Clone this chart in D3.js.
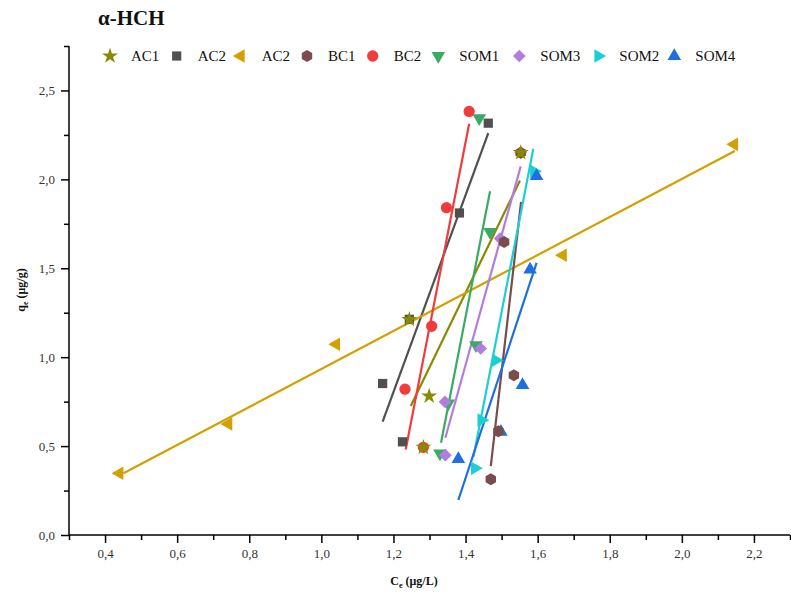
<!DOCTYPE html>
<html><head><meta charset="utf-8">
<script src="https://cdn.jsdelivr.net/npm/d3@7"></script>
<style>body{margin:0;background:#fff}svg{display:block}text{font-family:"Liberation Serif","Times New Roman",serif}</style>
</head><body>
<svg id="c" width="791" height="596"></svg>
<script>
// ---- data ----
const seriesNames = ["AC1","AC2","AC2","BC1","BC2","SOM1","SOM3","SOM2","SOM4"];
const ac1X = [1.283, 1.299, 1.244, 1.553], ac1Y = [0.493, 0.781, 1.212, 2.150];
const ac2X = [1.225, 1.170, 1.244, 1.383, 1.463], ac2Y = [0.524, 0.852, 1.213, 1.811, 2.316];
const ac2bX = [0.440, 0.742, 1.041, 1.670, 2.145], ac2bY = [0.347, 0.624, 1.073, 1.573, 2.197];
const bc1X = [1.470, 1.491, 1.534, 1.507, 1.553], bc1Y = [0.313, 0.584, 0.899, 1.648, 2.150];
const bc2X = [1.283, 1.232, 1.306, 1.347, 1.410], bc2Y = [0.493, 0.820, 1.174, 1.841, 2.382];
const som1X = [1.329, 1.352, 1.429, 1.468, 1.438], som1Y = [0.459, 0.740, 1.067, 1.704, 2.344];
const som3X = [1.344, 1.343, 1.442, 1.496, 1.553], som3Y = [0.449, 0.749, 1.049, 1.667, 2.150];
const som2X = [1.426, 1.444, 1.484, 1.590], som2Y = [0.375, 0.646, 0.983, 2.045];
const som4X = [1.380, 1.498, 1.558, 1.579, 1.597], som4Y = [0.427, 0.580, 0.843, 1.493, 2.019];
// fitted lines: [x1, y1, x2, y2]
const ac1Fit = [1.248, 0.725, 1.551, 1.994];
const ac2Fit = [1.170, 0.637, 1.463, 2.260];
const ac2bFit = [0.451, 0.347, 2.147, 2.159];
const bc1Fit = [1.470, 0.388, 1.554, 1.873];
const bc2Fit = [1.234, 0.481, 1.410, 2.313];
const som1Fit = [1.332, 0.519, 1.468, 1.933];
const som3Fit = [1.344, 0.547, 1.553, 2.073];
const som2Fit = [1.422, 0.440, 1.588, 2.172];
const som4Fit = [1.380, 0.197, 1.597, 1.530];
const xMajor = [0.4,0.6,0.8,1.0,1.2,1.4,1.6,1.8,2.0,2.2];
const yMajor = [0.0,0.5,1.0,1.5,2.0,2.5];

// ---- styles / layout ----
const colors = ["#8a8a00","#505050","#d49f00","#7a4c4c","#f03c3c","#3aaa64","#b27ddf","#1ccfd4","#1e6fe0"];
const shapes = ["star","square","tleft","hex","circle","tdown","diamond","tright","tup"];
const legendSymX = [110,176.7,240.7,307,372.7,438.3,519.3,598.3,674.3];
const drawOrder = [5,7,8,6,4,3,1,2,0];

const series = [
  [ac1X,ac1Y,ac1Fit],[ac2X,ac2Y,ac2Fit],[ac2bX,ac2bY,ac2bFit],[bc1X,bc1Y,bc1Fit],[bc2X,bc2Y,bc2Fit],
  [som1X,som1Y,som1Fit],[som3X,som3Y,som3Fit],[som2X,som2Y,som2Fit],[som4X,som4Y,som4Fit]
].map((s,i)=>({name:seriesNames[i],pts:s[0].map((x,j)=>({x,y:s[1][j]})),fit:s[2],color:colors[i],shape:shapes[i]}));

const svg = d3.select("#c");
const x = d3.scaleLinear([0.3,2.3],[69,790]);
const y = d3.scaleLinear([0,2.75],[535,46]);
const fmt = v => d3.format(".1f")(v).replace(".",",");

function symPath(shape){
  const hex = d3.line()(d3.range(6).map(k=>{const a=Math.PI/6+k*Math.PI/3;return [6*Math.cos(a),6*Math.sin(a)];}))+"Z";
  switch(shape){
    case "star": return {d:d3.symbol(d3.symbolStar,80)(),r:0};
    case "square": return {d:d3.symbol(d3.symbolSquare,85)(),r:0};
    case "circle": return {d:d3.symbol(d3.symbolCircle,100)(),r:0};
    case "diamond": return {d:d3.symbol(d3.symbolSquare,80)(),r:45};
    case "hex": return {d:hex,r:0};
    case "tup": return {d:d3.symbol(d3.symbolTriangle,80)(),r:0};
    case "tdown": return {d:d3.symbol(d3.symbolTriangle,80)(),r:180};
    case "tleft": return {d:d3.symbol(d3.symbolTriangle,80)(),r:-90};
    case "tright": return {d:d3.symbol(d3.symbolTriangle,80)(),r:90};
  }
}

// axes
const gx = svg.append("g").attr("transform","translate(0,535)");
gx.call(d3.axisBottom(x).tickValues(d3.range(3,24).map(v=>v/10).filter(v=>!xMajor.some(m=>Math.abs(m-v)<1e-6))).tickSize(5).tickFormat(""));
const gx2 = svg.append("g").attr("transform","translate(0,535)");
gx2.call(d3.axisBottom(x).tickValues(xMajor).tickSize(8).tickFormat(fmt).tickPadding(6));
const gy = svg.append("g").attr("transform","translate(69,0)");
gy.call(d3.axisLeft(y).tickValues([0.25,0.75,1.25,1.75,2.25,2.75]).tickSize(5).tickFormat(""));
const gy2 = svg.append("g").attr("transform","translate(69,0)");
gy2.call(d3.axisLeft(y).tickValues(yMajor).tickSize(8).tickFormat(fmt).tickPadding(6));
svg.selectAll(".domain").attr("stroke","#000").attr("stroke-width",1.5);
svg.selectAll(".tick line").attr("stroke","#000").attr("stroke-width",1.5);
svg.selectAll(".tick text").attr("fill","#333").style("font-size","13px").style("font-family","'Liberation Serif',serif");
gx.select(".domain").remove(); gy.select(".domain").remove();
gx2.select(".domain").attr("d",`M${x(0.3)},0H${x(2.3)}`);
gy2.select(".domain").attr("d",`M0,${y(0)}V${y(2.75)}`);

// fit lines
const plot = svg.append("g");
series.forEach(s=>{
  plot.append("line").attr("x1",x(s.fit[0])).attr("y1",y(s.fit[1])).attr("x2",x(s.fit[2])).attr("y2",y(s.fit[3]))
    .attr("stroke",s.color).attr("stroke-width",2.2);
});
// markers
drawOrder.forEach(i=>{
  const s = series[i], p = symPath(s.shape);
  plot.append("g").selectAll("path").data(s.pts).join("path")
    .attr("d",p.d).attr("fill",s.color)
    .attr("transform",d=>`translate(${x(d.x)},${y(d.y)}) rotate(${p.r})`);
});

// legend
series.forEach((s,i)=>{
  const p = symPath(s.shape);
  svg.append("path").attr("d",p.d).attr("fill",s.color).attr("transform",`translate(${legendSymX[i]},56) rotate(${p.r})`);
  svg.append("text").attr("x",legendSymX[i]+21).attr("y",61).attr("fill","#111").style("font-size","15px").text(s.name);
});

// title & labels
svg.append("text").attr("x",98).attr("y",25).style("font-size","21px").style("font-weight","bold").attr("fill","#111").text("α-HCH");
const xl = svg.append("text").attr("x",414).attr("y",585).attr("text-anchor","middle").style("font-size","12px").style("font-weight","bold").attr("fill","#111");
xl.append("tspan").text("C");
xl.append("tspan").attr("dy",3).style("font-size","8px").text("e");
xl.append("tspan").attr("dy",-3).text(" (μg/L)");
const yl = svg.append("text").attr("transform","translate(25,290) rotate(-90)").attr("text-anchor","middle").style("font-size","12px").style("font-weight","bold").attr("fill","#111");
yl.append("tspan").text("q");
yl.append("tspan").attr("dy",3).style("font-size","8px").text("e");
yl.append("tspan").attr("dy",-3).text(" (μg/g)");
</script>
</body></html>
